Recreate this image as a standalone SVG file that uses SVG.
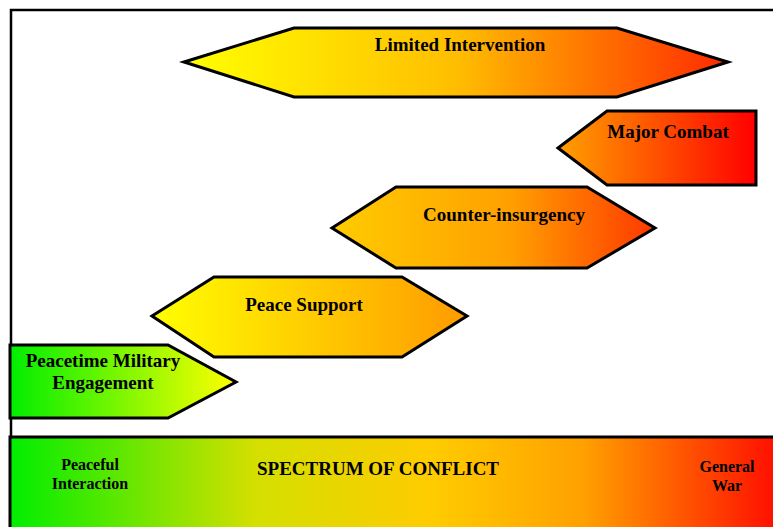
<svg xmlns="http://www.w3.org/2000/svg" width="773" height="527" viewBox="0 0 773 527">
<defs>
<style>
.shape{stroke:#000;stroke-width:3;stroke-linejoin:miter}
.lbl{font-family:"Liberation Serif","Times New Roman",serif;font-weight:bold;font-size:19px;fill:#000;text-anchor:middle}
.sm{font-size:16px}
.frame{stroke:#000;stroke-width:2.5;fill:none}
</style>
<linearGradient id="gLim" x1="0" y1="0" x2="1" y2="0">
<stop offset="0" stop-color="#ffff00"/>
<stop offset="0.5" stop-color="#ffbe00"/>
<stop offset="1" stop-color="#ff2a00"/>
</linearGradient>
<linearGradient id="gMaj" x1="0" y1="0" x2="1" y2="0">
<stop offset="0" stop-color="#ffa000"/>
<stop offset="1" stop-color="#ff0000"/>
</linearGradient>
<linearGradient id="gCoin" x1="0" y1="0" x2="1" y2="0">
<stop offset="0" stop-color="#ffcc00"/>
<stop offset="0.55" stop-color="#ffa000"/>
<stop offset="1" stop-color="#ff3800"/>
</linearGradient>
<linearGradient id="gPs" x1="0" y1="0" x2="1" y2="0">
<stop offset="0" stop-color="#ffff00"/>
<stop offset="1" stop-color="#ff9a00"/>
</linearGradient>
<linearGradient id="gPme" x1="0" y1="0" x2="1" y2="0">
<stop offset="0" stop-color="#00ee00"/>
<stop offset="1" stop-color="#ffff00"/>
</linearGradient>
<linearGradient id="gBar" x1="0" y1="0" x2="1" y2="0">
<stop offset="0" stop-color="#00ee00"/>
<stop offset="0.32" stop-color="#d4df00"/>
<stop offset="0.55" stop-color="#ffcc00"/>
<stop offset="0.75" stop-color="#ffa000"/>
<stop offset="1" stop-color="#ff1000"/>
</linearGradient>
</defs>
<g id="frame">
<path class="frame" d="M11,527 L11,10 L773,10"/>
</g>
<g id="spectrum-bar">
<rect x="10" y="437" width="765" height="95" fill="url(#gBar)" stroke="#000" stroke-width="3"/>
<text class="lbl sm" x="90" y="470">Peaceful</text>
<text class="lbl sm" x="90" y="489">Interaction</text>
<text class="lbl" x="378" y="475">SPECTRUM OF CONFLICT</text>
<text class="lbl sm" x="727" y="472">General</text>
<text class="lbl sm" x="727" y="491">War</text>
</g>
<g id="limited-intervention">
<polygon class="shape" fill="url(#gLim)" points="184,62 294,28 617,28 728,62 617,97 294,97"/>
<text class="lbl" x="460" y="51">Limited Intervention</text>
</g>
<g id="major-combat">
<polygon class="shape" fill="url(#gMaj)" points="558,148 607,111 756,111 756,185 607,185"/>
<text class="lbl" x="668" y="138">Major Combat</text>
</g>
<g id="counter-insurgency">
<polygon class="shape" fill="url(#gCoin)" points="332,228 396,187 587,187 655,228 587,268 396,268"/>
<text class="lbl" x="504" y="221">Counter-insurgency</text>
</g>
<g id="peace-support">
<polygon class="shape" fill="url(#gPs)" points="152,316 214,277 402,277 467,316 402,357 214,357"/>
<text class="lbl" x="304" y="311">Peace Support</text>
</g>
<g id="peacetime-military-engagement">
<polygon class="shape" fill="url(#gPme)" points="10,345 168,345 236,382 168,418 10,418"/>
<text class="lbl" x="103" y="367">Peacetime Military</text>
<text class="lbl" x="103" y="389">Engagement</text>
</g>
</svg>
